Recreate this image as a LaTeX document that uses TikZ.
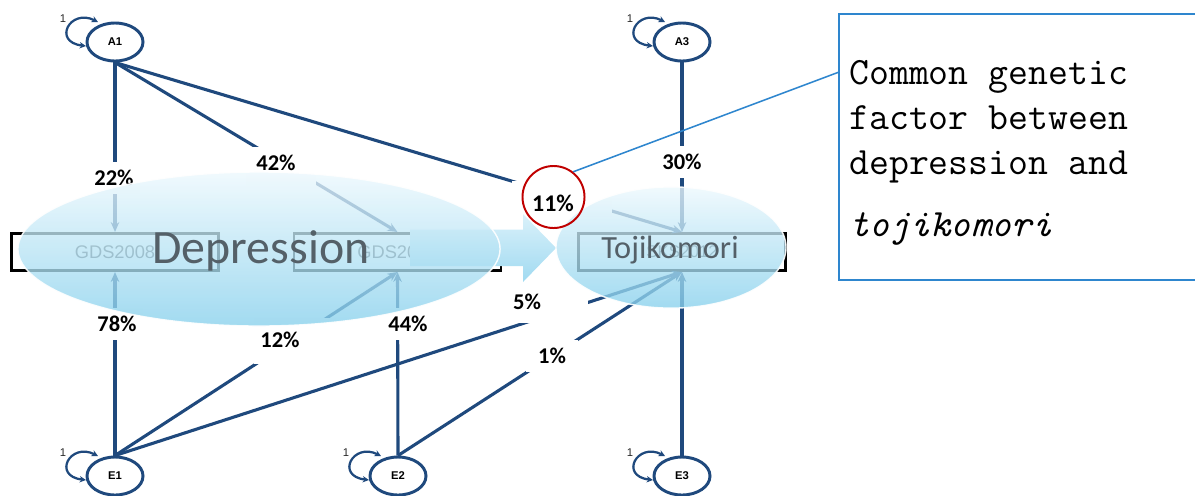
\documentclass[tikz,border=0pt]{standalone}
\usepackage{fontspec}
\setmainfont{Carlito}
\newfontfamily\amosfont{Liberation Sans}
\usetikzlibrary{shapes.geometric,arrows.meta,calc}

\definecolor{pathblue}{RGB}{31,73,125}
\definecolor{calloutblue}{RGB}{46,134,206}
\definecolor{circred}{RGB}{192,0,0}
\definecolor{glowtop}{RGB}{236,248,253}
\definecolor{glowbottom}{RGB}{135,208,236}
\definecolor{arrowtop}{RGB}{218,241,250}
\definecolor{arrowbottom}{RGB}{160,218,241}
\definecolor{captiongray}{RGB}{84,96,104}

\begin{document}
\begin{tikzpicture}[x=0.025cm,y=-0.025cm,
  latent/.style={ellipse,draw=pathblue,line width=2.1pt,minimum width=1.4cm,
    minimum height=0.95cm,inner sep=0pt,font=\amosfont\bfseries\fontsize{8}{9}\selectfont},
  observed/.style={rectangle,draw=black,line width=2pt,minimum width=5.175cm,
    minimum height=0.93cm,inner sep=0pt,text=black!72,font=\amosfont\fontsize{13}{15}\selectfont},
  regpath/.style={draw=pathblue,line width=2.2pt,-{Stealth[length=7pt,width=6pt]}},
  varloop/.style={draw=pathblue,line width=1.6pt,
    {Stealth[length=4.5pt,width=4.5pt]}-{Stealth[length=4.5pt,width=4.5pt]}},
  loopnum/.style={font=\amosfont\fontsize{8}{9}\selectfont,text=black!85,inner sep=0pt},
  pct/.style={fill=white,inner sep=0pt,minimum width=1.3cm,minimum height=0.8cm,
    font=\bfseries\fontsize{16}{18}\selectfont},
  glow/.style={ellipse,draw=white,line width=1pt,top color=glowtop,bottom color=glowbottom,
    fill opacity=0.78,draw opacity=0.9,inner sep=0pt},
  notetext/.style={anchor=base west,inner sep=0pt,font=\ttfamily\fontsize{27.5}{30}\selectfont},
]
\useasboundingbox (0,0) rectangle (1195,495);

% latent variables
\node[latent] (A1) at (115,42) {A1};
\node[latent] (A3) at (682,42) {A3};
\node[latent] (E1) at (115,476) {E1};
\node[latent] (E2) at (398,476) {E2};
\node[latent] (E3) at (682,476) {E3};

% observed variables
\node[observed] (G1) at (115,252) {GDS2008};
\node[observed] (G2) at (397.5,252) {GDS2012};
\node[observed,font=\amosfont\fontsize{12}{14}\selectfont] (T) at (682,252) {SKS2012};

% paths
\draw[regpath] (A1.south) -- (G1.north);
\draw[regpath] (A1.south) -- (G2.north);
\draw[regpath] (A1.south) -- (T.north);
\draw[regpath] (A3) -- (T.north);
\draw[regpath] (E1.north) -- (G1.south);
\draw[regpath] (E1.north) -- (G2.south);
\draw[regpath] (E1.north) -- (T.south);
\draw[regpath] (E2.north) -- (G2.south);
\draw[regpath] (E2.north) -- (T.south);
\draw[regpath] (E3) -- (T.south);

% variances
\foreach \v in {A1,A3,E1,E2,E3}{
  \draw[varloop] ([shift={(-17,-20)}]\v.center)
    .. controls ([shift={(-45,-34)}]\v.center) and ([shift={(-63,0)}]\v.center)
    .. ([shift={(-29,4)}]\v.center);
  \node[loopnum] (one\v) at ([shift={(-52,-23)}]\v.center) {1};
}

% path estimates, each on a white patch that breaks its path
\fill[white] (505,290) rectangle (588,323);
\fill[white] (512,181) rectangle (612,217);
\fill[white] (246,148) rectangle (316,186);
\fill[white] (254,318) rectangle (336,364);
\node[pct] (l22) at (114,178) {22\%};
\node[pct] (l42) at (276,163) {42\%};
\node[pct] (l30) at (682,162) {30\%};
\node[pct] (l78) at (117,324) {78\%};
\node[pct] (l12) at (280,340) {12\%};
\node[pct] (l44) at (408,324) {44\%};
\node[pct] (l5) at (527,302) {5\%};
\node[pct] (l1) at (552,356) {1\%};

% block arrow between the two constructs
\shade[top color=arrowtop,bottom color=arrowbottom]
  (410,229.5) -- (523,229.5) -- (523,214) -- (556,248) -- (523,282) -- (523,266) -- (410,266) -- cycle;

% construct overlays
\node[glow,minimum width=12.05cm,minimum height=3.85cm] (dep) at (259,249) {};
\node[glow,minimum width=5.75cm,minimum height=3.03cm] (toji) at (671,247.5) {};
\node[anchor=base,inner sep=0pt,text=captiongray,font=\fontsize{34}{40}\selectfont] (deplabel) at (261,263) {Depression};
\node[anchor=base,inner sep=0pt,text=captiongray,font=\fontsize{23}{27}\selectfont] (tojilabel) at (670,258) {Tojikomori};

% shared genetic factor
\node[circle,draw=circred,line width=1.4pt,minimum size=1.55cm,inner sep=0pt] (ring) at (553.5,197) {};
\node[inner sep=0pt,font=\bfseries\fontsize{17}{20}\selectfont] (l11) at (553,203) {11\%};

% callout
\node[draw=calloutblue,line width=1.1pt,anchor=north west,minimum width=9.2cm,
  minimum height=6.65cm,inner sep=0pt] (note) at (838,13) {};
\draw[calloutblue,line width=1.1pt] (ring.52) -- ($(note.north west)!0.222!(note.south west)$);
\node[notetext] (t1) at (849,84) {Common genetic};
\node[notetext] (t2) at (849,129) {factor between};
\node[notetext] (t3) at (849,174) {depression and};
\node[notetext] (t4) at (849,236) {\itshape tojikomori};
\end{tikzpicture}
\end{document}
